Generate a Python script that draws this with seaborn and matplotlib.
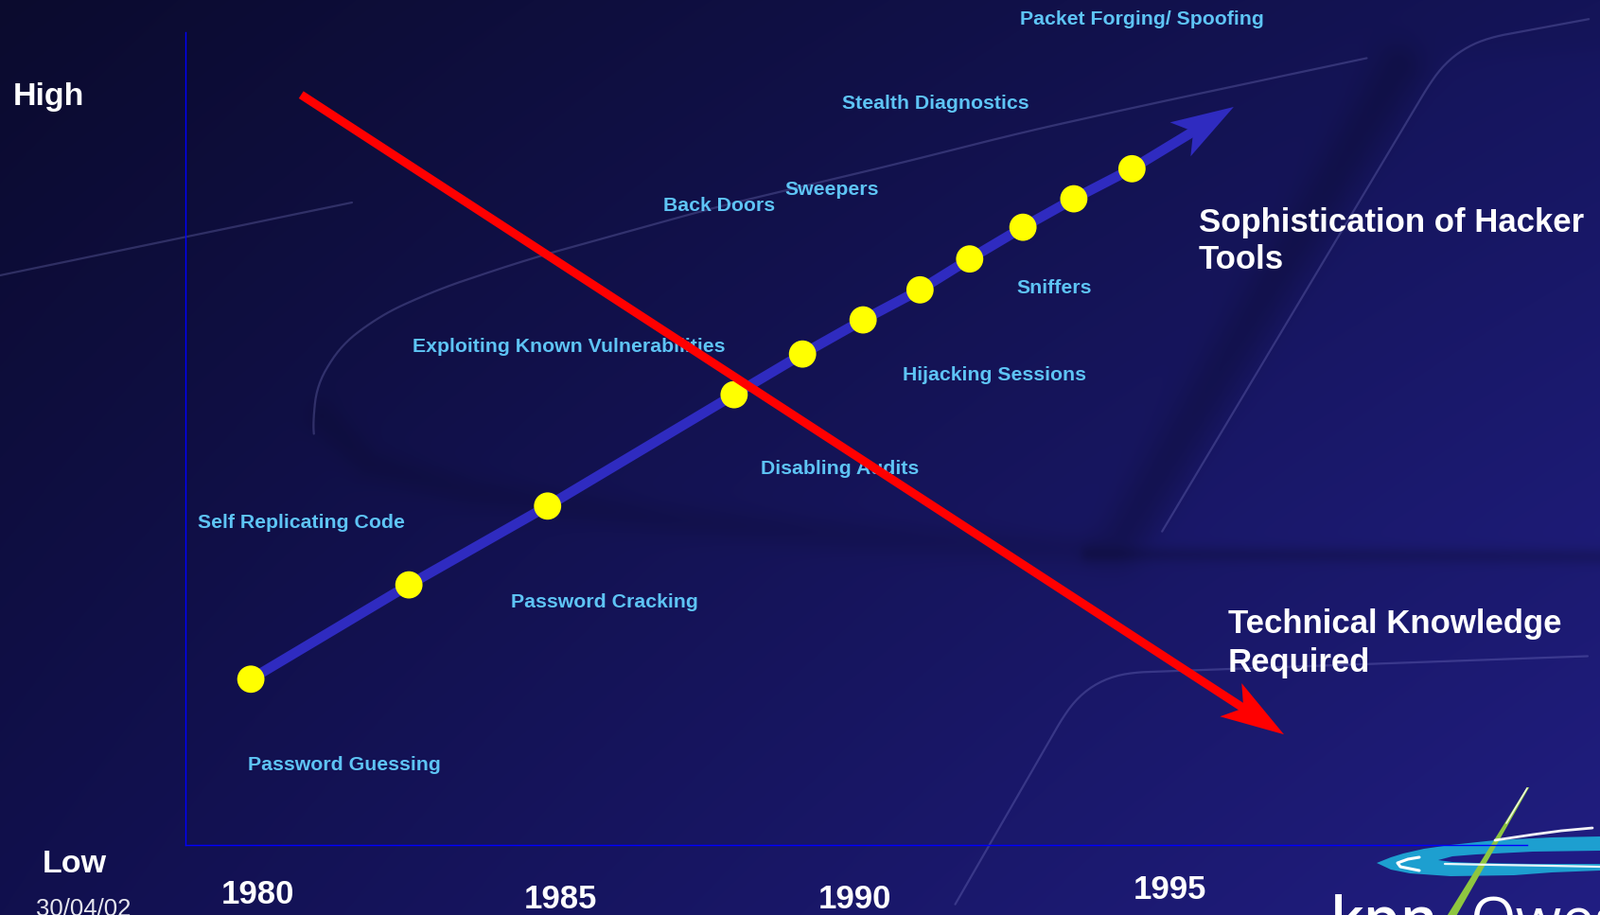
import numpy as np
import matplotlib
matplotlib.use("Agg")
import matplotlib.pyplot as plt
import matplotlib.transforms as mtransforms
from matplotlib.patches import Polygon
import seaborn as sns

# ---------------- data ----------------
# trend of the sophistication of hacker tools (yellow milestones)
dot_years = [1979.88, 1982.49, 1984.78, 1987.86, 1988.99, 1989.99,
             1990.93, 1991.75, 1992.63, 1993.47, 1994.43]
dot_levels = [20.4, 32.0, 41.7, 55.4, 60.4, 64.6, 68.3, 72.1, 76.0, 79.5, 83.2]
tools_tip_year = 1996.11
tools_tip_level = 90.8

# technical knowledge required (red arrow)
knowledge_years = [1980.71, 1996.94]
knowledge_levels = [92.3, 13.6]

# attack labels
attack_labels = ["Packet Forging/ Spoofing", "Stealth Diagnostics", "Sweepers",
                 "Back Doors", "Sniffers", "Exploiting Known Vulnerabilities",
                 "Hijacking Sessions", "Disabling Audits", "Self Replicating Code",
                 "Password Cracking", "Password Guessing"]
attack_years = [1992.58, 1989.64, 1988.70, 1986.69, 1992.53, 1982.55,
                1990.64, 1988.30, 1979.00, 1984.18, 1979.83]
attack_levels = [101.6, 91.2, 80.6, 78.6, 68.5, 61.3, 57.8, 46.3, 39.6, 29.9, 9.8]

year_labels = ["1980", "1985", "1990", "1995"]
year_label_x = [1980.0, 1984.99, 1989.86, 1995.05]
year_label_y = [-6.1, -6.7, -6.7, -5.5]

series_labels = [["Sophistication of Hacker", "Tools"],
                 ["Technical Knowledge", "Required"]]
series_label_x = [1995.53, 1996.02]
series_label_y = [[76.6, 72.0], [27.15, 22.45]]

x_range = (1978.8, 2000.956)
y_range = (0, 100)

# ---------------- style ----------------
sns.set_theme(style="white")
plt.rcParams["font.family"] = ["Liberation Sans", "DejaVu Sans"]

W_PX, H_PX = 1691, 967
fig = plt.figure(figsize=(W_PX / 100, H_PX / 100), dpi=100)

# ---- background slide (decorative) ----
bg = fig.add_axes([0, 0, 1, 1], zorder=0)
bg.set_xlim(0, W_PX)
bg.set_ylim(H_PX, 0)
bg.axis("off")

yy, xx = np.mgrid[0:H_PX, 0:W_PX].astype(float)
gx, gy = xx / W_PX, yy / H_PX
TL = np.array([11, 11, 46]) / 255
TR = np.array([20, 20, 88]) / 255
BL = np.array([17, 16, 78]) / 255
BR = np.array([33, 30, 130]) / 255
img = (TL * ((1 - gx) * (1 - gy))[..., None] + TR * (gx * (1 - gy))[..., None]
       + BL * ((1 - gx) * gy)[..., None] + BR * (gx * gy)[..., None])


def poly_dist(pts):
    d = np.full(xx.shape, np.inf)
    for (x0, y0), (x1, y1) in zip(pts[:-1], pts[1:]):
        vx, vy = x1 - x0, y1 - y0
        t = ((xx - x0) * vx + (yy - y0) * vy) / (vx * vx + vy * vy)
        t = np.clip(t, 0, 1)
        dd = np.hypot(xx - (x0 + t * vx), yy - (y0 + t * vy))
        d = np.minimum(d, dd)
    return d


shade = np.ones(xx.shape)
shade *= 1 - 0.16 * np.exp(-(poly_dist([(1478, 70), (1180, 576)]) / 26) ** 2)
shade *= 1 - 0.14 * np.exp(-(poly_dist([(1150, 585), (1691, 588)]) / 9) ** 2)
shade *= 1 - 0.10 * np.exp(-(poly_dist([(340, 440), (390, 490), (500, 520), (700, 548),
                                         (900, 566), (1150, 582)]) / 18) ** 2)
# slightly lighter panel right of the diagonal (soft edges)
edge_x = 1530 - (yy - 50) * 0.6
soft = (1 / (1 + np.exp(-(xx - edge_x) / 6))) * (1 / (1 + np.exp((yy - 578) / 5))) \
    * (1 / (1 + np.exp(-(yy - 55) / 6)))
shade *= 1 + 0.05 * soft
img = np.clip(img * shade[..., None], 0, 1)
bg.imshow(img, extent=(0, W_PX, H_PX, 0), aspect="auto", interpolation="bilinear")


def smooth(px, py, n=200):
    px, py = np.asarray(px, float), np.asarray(py, float)
    t = np.r_[0, np.cumsum(np.hypot(np.diff(px), np.diff(py)))]
    tt = np.linspace(0, t[-1], n)
    sx, sy = np.interp(tt, t, px), np.interp(tt, t, py)
    k = 15
    ker = np.ones(k) / k
    sx2 = np.convolve(np.pad(sx, k // 2, mode="edge"), ker, "valid")
    sy2 = np.convolve(np.pad(sy, k // 2, mode="edge"), ker, "valid")
    return sx2, sy2


deco = dict(color=(0.58, 0.58, 0.88), lw=1.6, alpha=0.26, solid_capstyle="round")
bg.plot([0, 372], [291, 214], **deco)
bg.plot(*smooth([1456, 1300, 1206, 1080, 953, 760, 561, 450, 380, 343, 326, 334],
                [59, 92, 112, 140, 172, 218, 273, 310, 345, 383, 433, 470]), **deco)
bg.plot(*smooth([1691, 1545, 1528, 1222], [18, 45, 60, 572], n=120), **deco)
bg.plot(*smooth([1691, 1160, 1143, 1003], [693, 712, 724, 967], n=120), **deco)

# ---- logo (bottom right) ----
cyan = "#1d9fd0"
ox = [1455, 1470, 1483, 1505, 1533, 1580, 1640, 1691, 1691, 1640, 1600, 1533, 1490, 1470]
oy = [912, 906, 902, 897, 893, 888, 885, 884, 920, 922, 925, 926, 923, 919]
bg.add_patch(Polygon(np.c_[ox, oy], closed=True, fc=cyan, ec="none"))
ix = [1520, 1535, 1560, 1620, 1691, 1691, 1620, 1560, 1535]
iy = [909, 905, 903, 900, 899, 913, 913, 912, 911]
bg.add_patch(Polygon(np.c_[ix, iy], closed=True, fc="#1f1b85", ec="none"))
bg.plot([1527, 1580, 1640, 1691], [913, 914, 915, 916], color="white", lw=1.6, alpha=0.9)
bg.plot([1580, 1620, 1650, 1683], [888, 882, 878, 875], color="white", lw=2.0, alpha=0.95)
bg.plot([1500, 1488, 1477, 1480, 1500], [906, 908, 912, 916, 920], color="white", lw=2.2)
gx0, gy0, gx1, gy1 = 1533, 970, 1615, 832
bg.add_patch(Polygon([(gx0 - 5, gy0), (gx0 + 5, gy0), (gx1 + 1.2, gy1), (gx1 - 1.2, gy1)],
                     closed=True, fc="#8ec640", ec="none"))
bg.plot([1592, 1614], [870, 833], color="#eef7dd", lw=1.2)
logo_font = ["Open Sans", "DejaVu Sans"]
bg.text(1406, 993, "kpn", color="white", fontsize=45, family=logo_font,
        fontweight="semibold", va="baseline", ha="left")
bg.text(1553, 993, "Qwest", color="white", fontsize=45, family=logo_font,
        fontweight="normal", va="baseline", ha="left")

# ---- main chart axes ----
ax = fig.add_axes([196 / W_PX, 1 - 893 / H_PX, 1418 / W_PX, 859 / H_PX], zorder=1)
ax.patch.set_alpha(0)
ax.set_xlim(*x_range)
ax.set_ylim(*y_range)
ax.set_xticks([])
ax.set_yticks([])
for s in ["top", "right"]:
    ax.spines[s].set_visible(False)
for s in ["left", "bottom"]:
    ax.spines[s].set_color("#0000ff")
    ax.spines[s].set_linewidth(1.0)

label_blue = "#5ec4f5"
for t, x, y in zip(attack_labels, attack_years, attack_levels):
    ax.text(x, y, t, color=label_blue, fontsize=15.3, fontweight="bold",
            ha="left", va="center", clip_on=False, zorder=2)

for lines, x, ys in zip(series_labels, series_label_x, series_label_y):
    for t, y in zip(lines, ys):
        ax.text(x, y, t, color="white", fontsize=25, fontweight="bold",
                ha="left", va="center", clip_on=False, zorder=2)

for t, x, y in zip(year_labels, year_label_x, year_label_y):
    ax.text(x, y, t, color="white", fontsize=25, fontweight="bold",
            ha="center", va="center", clip_on=False, zorder=2)

ax.text(1975.96, 92.0, "High", color="white", fontsize=24.5, fontweight="bold",
        ha="left", va="center", clip_on=False)
ax.text(1976.44, -2.4, "Low", color="white", fontsize=24.5, fontweight="bold",
        ha="left", va="center", clip_on=False)
ax.text(1976.33, -7.9, "30/04/02", color="#e6e6ee", fontsize=18.5,
        ha="left", va="center", clip_on=False)


def stealth_head(tail, tip, color, L=66, W=21, notch=16, z=5):
    T = ax.transData
    p0 = np.asarray(T.transform(tail), float)
    p1 = np.asarray(T.transform(tip), float)
    d = (p1 - p0) / np.linalg.norm(p1 - p0)
    n = np.array([-d[1], d[0]])
    pts = [p1, p1 - L * d + W * n, p1 - (L - notch) * d, p1 - L * d - W * n]
    poly = Polygon(pts, closed=True, transform=mtransforms.IdentityTransform(),
                   fc=color, ec="none", zorder=z, clip_on=False)
    ax.add_patch(poly)
    return T.inverted().transform(p1 - (L - notch - 2) * d)


blue = "#2f2bc0"
red = "#ff0000"

# blue trend line with arrow
bbase = stealth_head((dot_years[-1], dot_levels[-1]), (tools_tip_year, tools_tip_level),
                     blue, L=66, W=21, notch=16, z=3.5)
bx = dot_years + [bbase[0]]
by = dot_levels + [bbase[1]]
sns.lineplot(x=bx, y=by, sort=False, estimator=None, color=blue, lw=7.6,
             solid_capstyle="butt", ax=ax, zorder=3)

# milestones
sns.scatterplot(x=dot_years, y=dot_levels, s=430, color="#ffff00", edgecolor="none",
                linewidth=0, ax=ax, zorder=4)

# red knowledge line with arrow
rbase = stealth_head((knowledge_years[0], knowledge_levels[0]),
                     (knowledge_years[1], knowledge_levels[1]), red,
                     L=67, W=21, notch=16, z=5)
sns.lineplot(x=[knowledge_years[0], rbase[0]], y=[knowledge_levels[0], rbase[1]],
             sort=False, estimator=None, color=red, lw=6.5,
             solid_capstyle="butt", ax=ax, zorder=5)

ax.set_xlabel("")
ax.set_ylabel("")
ax.set_xlim(*x_range)
ax.set_ylim(*y_range)

fig.savefig("out.png", dpi=100)
